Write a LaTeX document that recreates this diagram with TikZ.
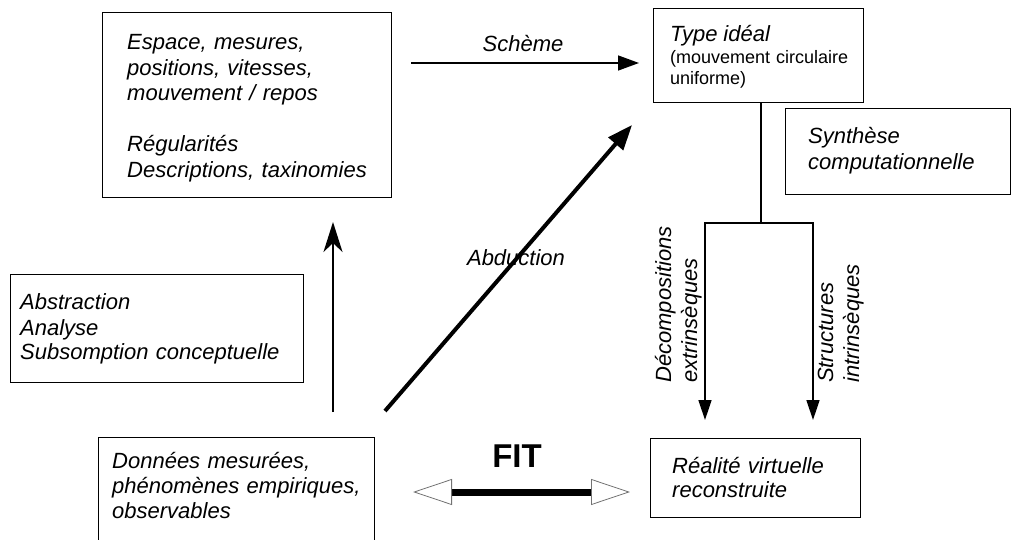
\documentclass[tikz,border=0pt]{standalone}
\usepackage{fontspec}
\setmainfont{Liberation Sans}
\usetikzlibrary{arrows.meta,calc}
\tikzset{fittip/.tip={Triangle[length=39pt,width=26pt,fill=white,color=black!55,line width=0.8pt]}}
\begin{document}
\begin{tikzpicture}[x=1pt,y=-1pt,
  box/.style={draw=black, line width=1.1pt, inner sep=0pt, anchor=north west},
  txt/.style={inner sep=0pt, anchor=base west, align=left, text width=#1,
    font=\itshape\fontsize{22}{25.5}\selectfont},
  lbl/.style={inner sep=0pt, anchor=base, font=\itshape\fontsize{22}{25.5}\selectfont},
  conn/.style={draw=black, line width=1.5pt},
  schemearrow/.style={conn, -{Triangle[length=21pt,width=15pt]}},
  uparrow/.style={draw=black, line width=2pt, -{Stealth[length=30pt,width=19pt,inset=9pt]}},
  abdarrow/.style={draw=black, line width=4pt, -{Triangle[length=25pt,width=19pt]}},
  downarrow/.style={conn, -{Triangle[length=20pt,width=13pt]}},
  fitarrow/.style={draw=black, line width=7pt, fittip-fittip}
]
\useasboundingbox (0,0) rectangle (1013,540);

% boxes
\node[box, minimum width=289pt, minimum height=185pt] (A) at (102,12) {};
\node[box, minimum width=210pt, minimum height=94pt] (T) at (653,8) {};
\node[box, minimum width=225pt, minimum height=86pt] (S) at (785,108) {};
\node[box, minimum width=293pt, minimum height=108pt] (B) at (10,274) {};
\node[box, minimum width=276pt, minimum height=106pt] (D) at (98,437) {};
\node[box, minimum width=210pt, minimum height=79pt] (R) at (650,438) {};

% box texts
\node[txt=270pt] (Atext) at (127,50) {Espace, mesures,\\ positions, vitesses,\\ mouvement / repos\\[25.5pt] Régularités\\ Descriptions, taxinomies};
\node[txt=200pt, font=\fontsize{18}{21.5}\selectfont] (Ttext) at (670,42)
  {{\itshape\fontsize{22}{21.5}\selectfont Type idéal}\\ (mouvement circulaire\\ uniforme)};
\node[txt=200pt] (Stext) at (808,144) {Synthèse\\ computationnelle};
\node[txt=280pt, font=\itshape\fontsize{22}{25}\selectfont] (Btext) at (20,310) {Abstraction\\ Analyse\\ Subsomption conceptuelle};
\node[txt=260pt, font=\itshape\fontsize{22}{25}\selectfont] (Dtext) at (112,468) {Données mesurées,\\ phénomènes empiriques,\\ observables};
\node[txt=190pt, font=\itshape\fontsize{22}{24.5}\selectfont] (Rtext) at (672,473) {Réalité virtuelle\\ reconstruite};

% connector end points
\coordinate (schS) at (411,63);
\coordinate (schE) at (639,63);
\coordinate (upS) at (333,412);
\coordinate (upE) at (333,222);
\coordinate (abdS) at (385,411);
\coordinate (abdE) at (632,125);
\coordinate (split) at (761,223);
\coordinate (decE) at (705,420);
\coordinate (strE) at (813,420);
\coordinate (fitL) at (413,492);
\coordinate (fitR) at (630,492);

% connectors
\draw[schemearrow] (schS) -- (schE);
\draw[uparrow] (upS) -- (upE);
\draw[abdarrow] (abdS) -- (abdE);
\draw[conn] (T.south -| split) -- (split);
\draw[downarrow] (split) -| (decE);
\draw[downarrow] (split) -| (strE);
\draw[fitarrow] (fitL) -- (fitR);

% connector labels
\node[lbl] (schlbl) at (523,52) {Schème};
\node[lbl] (abdlbl) at (516,266) {Abduction};
\node[inner sep=0pt, anchor=base, font=\bfseries\fontsize{33}{33}\selectfont] (fitlbl) at (517,467) {FIT};
\node[txt=200pt, font=\itshape\fontsize{22}{26}\selectfont, rotate=90] (declbl) at (671,383) {Décompositions\\ extrinsèques};
\node[txt=200pt, font=\itshape\fontsize{22}{26}\selectfont, rotate=90] (strlbl) at (833,383) {Structures\\ intrinsèques};
\end{tikzpicture}
\end{document}
